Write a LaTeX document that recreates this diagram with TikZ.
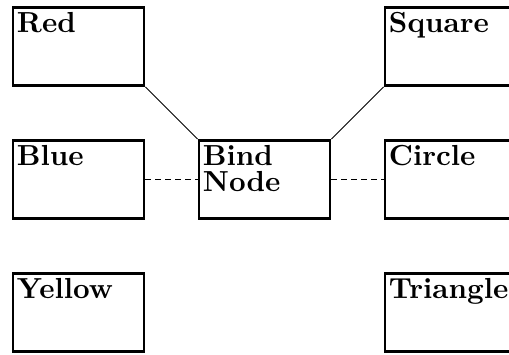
\documentclass[tikz,border=0pt]{standalone}
\usepackage{fontspec}
\begin{document}
\begin{tikzpicture}[
  box/.style={draw, line width=1.4pt, minimum width=65.5pt, minimum height=39pt, inner sep=0pt},
  lbl/.style={anchor=north west, inner sep=0pt, align=left, scale=1.45, transform shape, font=\fontsize{10}{9}\selectfont\bfseries},
  thin/.style={line width=0.5pt},
  dsh/.style={line width=0.8pt, dash pattern=on 2.8pt off 2.2pt}
]
\useasboundingbox (0,0) rectangle (254.5pt,-177pt);
\clip (0,0) rectangle (254.5pt,-177pt);
\node[box] (red)   at (39.25pt,-23.25pt) {};
\node[box] (blue)  at (39.25pt,-89.75pt) {};
\node[box] (yellow) at (39.25pt,-156.25pt) {};
\node[box] (bind)  at (132.25pt,-89.75pt) {};
\node[box] (square) at (225.25pt,-23.25pt) {};
\node[box] (circle) at (225.25pt,-89.75pt) {};
\node[box] (triangle) at (225.25pt,-156.25pt) {};
\node[lbl] (tred) at ([shift={(2.4pt,-2.9pt)}]red.north west) {Red};
\node[lbl] (tblue) at ([shift={(2.4pt,-2.9pt)}]blue.north west) {Blue};
\node[lbl] (tyellow) at ([shift={(2.4pt,-2.9pt)}]yellow.north west) {Yellow};
\node[lbl] (tbind) at ([shift={(2.4pt,-2.9pt)}]bind.north west) {Bind\\Node};
\node[lbl] (tsquare) at ([shift={(2.4pt,-2.9pt)}]square.north west) {Square};
\node[lbl] (tcircle) at ([shift={(2.4pt,-2.9pt)}]circle.north west) {Circle};
\node[lbl] (ttriangle) at ([shift={(2.4pt,-2.9pt)}]triangle.north west) {Triangle};
\draw[thin] (red.south east) -- (bind.north west);
\draw[thin] (square.south west) -- (bind.north east);
\draw[dsh] (blue.east) -- (bind.west);
\draw[dsh] (bind.east) -- (circle.west);
\end{tikzpicture}
\end{document}
